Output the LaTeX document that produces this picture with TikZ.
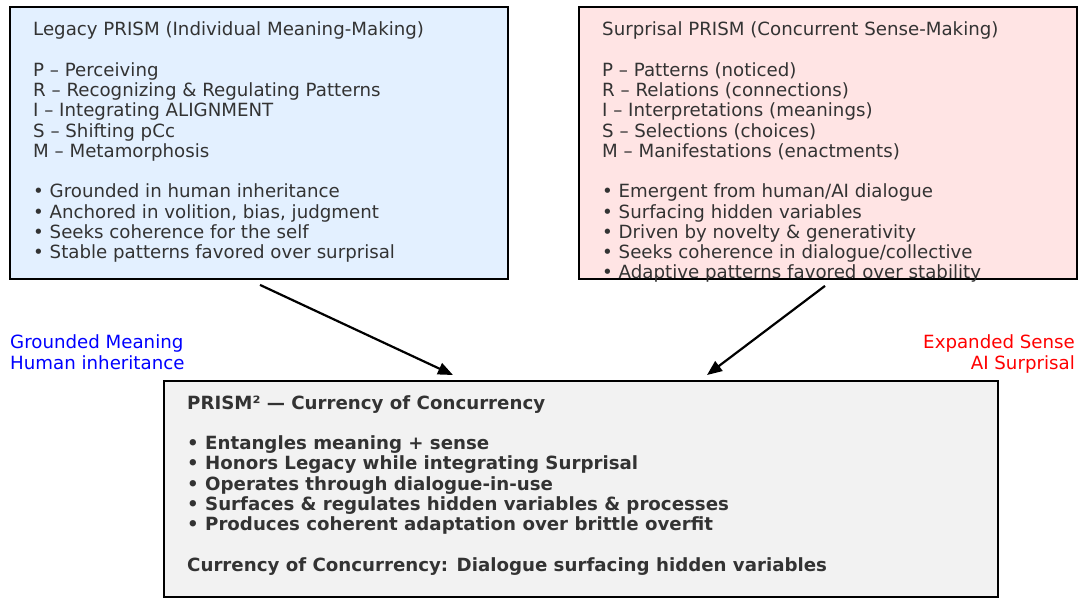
\documentclass[tikz,border=0pt]{standalone}
\usepackage{fontspec}
\setmainfont{DejaVu Sans}
\usetikzlibrary{arrows.meta}
\definecolor{legacyfill}{HTML}{E3F0FF}
\definecolor{surprisalfill}{HTML}{FFE4E4}
\definecolor{concurfill}{HTML}{F2F2F2}
\definecolor{bodytext}{HTML}{333333}
\tikzset{
  panel/.style={draw=black, line width=1.9pt, anchor=north west, inner sep=0pt},
  bodyblock/.style={anchor=base west, align=left, inner sep=0pt, text=bodytext,
    font=\fontsize{18.2}{20.25}\selectfont},
  sidelabel/.style={inner sep=0pt, font=\fontsize{18.2}{20.25}\selectfont},
  flow/.style={-{Triangle[length=15pt,width=12pt]}, line width=2.2pt, black}
}
\begin{document}
\begin{tikzpicture}[x=1pt,y=-1pt]
\useasboundingbox (0,0) rectangle (1079,599);

% three panels
\node[panel, fill=legacyfill, minimum width=498pt, minimum height=272pt] (legacy) at (9,6) {};
\node[panel, fill=surprisalfill, minimum width=498pt, minimum height=272pt] (surprisal) at (578,6) {};
\node[panel, fill=concurfill, minimum width=834pt, minimum height=216pt] (concur) at (163,380) {};

% panel contents (each block is placed by the baseline of its last line)
\node[bodyblock] (legacytext) at (33,258.5) {Legacy PRISM (Individual Meaning-Making)\\[20.25pt]
P – Perceiving\\
R – Recognizing \& Regulating Patterns\\
I – Integrating ALIGNMENT\\
S – Shifting pCc\\
M – Metamorphosis\\[20.25pt]
• Grounded in human inheritance\\
• Anchored in volition, bias, judgment\\
• Seeks coherence for the self\\
• Stable patterns favored over surprisal};

\node[bodyblock] (surprisaltext) at (602,278.75) {Surprisal PRISM (Concurrent Sense-Making)\\[20.25pt]
P – Patterns (noticed)\\
R – Relations (connections)\\
I – Interpretations (meanings)\\
S – Selections (choices)\\
M – Manifestations (enactments)\\[20.25pt]
• Emergent from human/AI dialogue\\
• Surfacing hidden variables\\
• Driven by novelty \& generativity\\
• Seeks coherence in dialogue/collective\\
• Adaptive patterns favored over stability};

\node[bodyblock, font=\fontsize{18.2}{20.25}\selectfont\bfseries] (concurtext) at (187,571) {PRISM² — Currency of Concurrency\\[20.25pt]
• Entangles meaning + sense\\
• Honors Legacy while integrating Surprisal\\
• Operates through dialogue-in-use\\
• Surfaces \& regulates hidden variables \& processes\\
• Produces coherent adaptation over brittle overfit\\[20.25pt]
Currency of Concurrency: Dialogue surfacing hidden variables};

% side annotations
\node[sidelabel, anchor=base west, align=left, text=blue] (grounded) at (10,369) {Grounded Meaning\\Human inheritance};
\node[sidelabel, anchor=base east, align=right, text=red] (expanded) at (1075,369) {Expanded Sense\\AI Surprisal};

% flows into the combined panel
\draw[flow] ([shift={(251pt,-5pt)}]legacy.south west) -- ([shift={(290pt,5pt)}]concur.north west);
\draw[flow] ([shift={(247pt,-6pt)}]surprisal.south west) -- ([shift={(544pt,5pt)}]concur.north west);
\end{tikzpicture}
\end{document}
